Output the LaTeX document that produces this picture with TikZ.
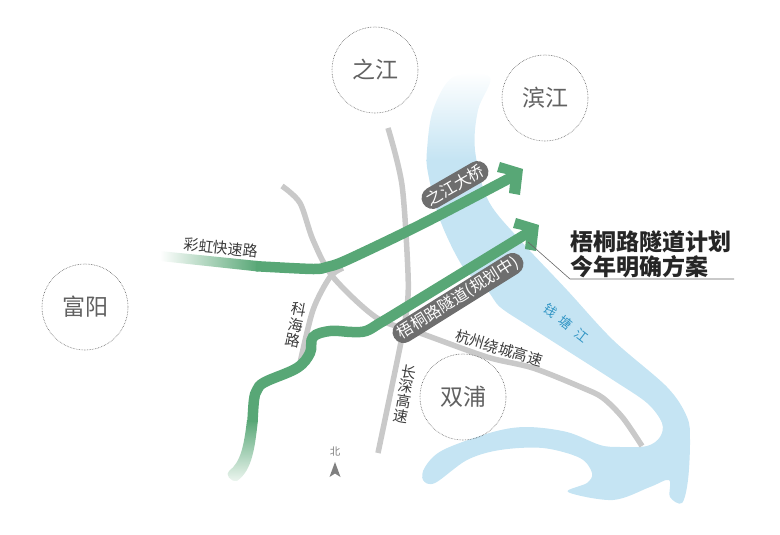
\documentclass[tikz,border=0pt]{standalone}
\usepackage{fontspec}
\setmainfont{Noto Sans CJK SC}
\usetikzlibrary{shapes.misc}
\definecolor{riverblue}{HTML}{C5E4F3}
\definecolor{roadgray}{HTML}{C9C9C9}
\definecolor{roadgreen}{HTML}{58A776}
\definecolor{pillgray}{HTML}{6E6E6E}
\definecolor{textgray}{HTML}{3C3C3C}
\definecolor{rivertext}{HTML}{2F94C4}
\tikzset{
  road/.style={draw=roadgray,line width=5.5pt},
  newroad/.style={draw=roadgreen,line width=10.5pt},
  district/.style={circle,draw=black!65,densely dotted,line width=0.6pt,minimum size=86pt,inner sep=0pt,text=black!62,font=\fontsize{23}{23}\selectfont},
  roadname/.style={text=textgray,font=\fontsize{15}{15}\selectfont,inner sep=0pt,align=center},
  pill/.style={rounded rectangle,fill=pillgray,text=white,inner ysep=1pt,inner xsep=2pt,minimum height=22pt,font=\fontsize{16}{16}\selectfont},
}
\def\riverpath{plot[smooth cycle,tension=0.55] coordinates {(453,77) (433,110) (427,150) (428,173) (440,220) (463,267) (487,290) (500,307) (527,325) (563,348) (613,380) (647,403) (662,423) (660,437) (647,446) (620,447) (600,445) (567,432) (527,427) (493,432) (443,450) (425,467) (423,480) (435,483) (467,460) (500,450) (543,448) (580,458) (592,473) (587,483) (568,492) (613,500) (650,487) (669,480) (670,497) (682,503) (688,480) (690,440) (687,417) (667,387) (613,340) (567,290) (520,240) (488,200) (475,150) (478,110) (490,77)}}
\begin{document}
\begin{tikzpicture}[x=1pt,y=-1pt]
  \useasboundingbox (0,0) rectangle (780,535);
  % river
  \begin{scope}
    \clip \riverpath;
    \shade[top color=white,bottom color=riverblue] (410,72) rectangle (510,160);
    \fill[riverblue] (410,160) rectangle (710,520);
  \end{scope}
  % roads
  \draw[road] plot[smooth] coordinates {(282,186) (300,203) (313,240) (333,277) (377,318) (420,333) (487,357) (533,368) (583,388) (603,398) (623,418) (642,446)};
  \draw[road] plot[smooth] coordinates {(343,268) (330,277) (313,310) (300,363)};
  \draw[road] plot[smooth] coordinates {(388,128) (402,185) (408,273) (407,307) (400,347) (378,453)};
  % planned roads
  \shade[left color=white,right color=roadgreen] (160,251) -- (258,261) -- (258,271.5) -- (160,261) -- cycle;
  \draw[newroad] plot[smooth] coordinates {(256,266.2) (313,269) (327,267) (347,260) (420,225) (510,178)};
  \shade[bottom color=roadgreen!10!white,top color=roadgreen] (247,420) -- (258,420) .. controls (255,445) and (253,470) .. (237,481) .. controls (230,482) and (225,474) .. (229,471) .. controls (241,462) and (244,445) .. cycle;
  \draw[newroad] plot[smooth,tension=0.6] coordinates {(252.5,422) (254,400) (257,390) (265,382) (297,368) (310,353) (313,337) (330,331) (352,332) (366,331) (380,323) (400,311) (526,234)};
  \foreach \hx/\hy in {0/0,16/56}
    \fill[roadgreen,shift={(\hx,\hy)}] (500,162) -- (523,169) -- (520,195) -- (509,193) -- (510,183) -- (506,174) -- (497,172) -- cycle;
  % districts
  \node[district] (zhijiang) at (375,70) {之江};
  \node[district] (binjiang) at (545,98) {滨江};
  \node[district] (fuyang) at (85,307) {富阳};
  \node[district] (shuangpu) at (463,397) {双浦};
  % labels on the planned roads
  \node[pill,rotate=30] (bridge) at (455,185) {之江大桥};
  \node[pill,rotate=32] (tunnel) at (458,298) {梧桐路隧道(规划中)};
  % road names
  \node[roadname,rotate=-6] (caihong) at (221,248) {彩虹快速路};
  \node[roadname,rotate=-11,font=\fontsize{15}{15.5}\selectfont] (kehai) at (296,325) {科\\海\\路};
  \node[roadname,rotate=-10,font=\fontsize{15}{15}\selectfont] (changshen) at (405,394) {长\\深\\高\\速};
  \node[roadname,rotate=-17] (raocheng) at (499,348) {杭州绕城高速};
  \node[text=rivertext,rotate=-38,inner sep=0pt,font=\fontsize{13}{13}\selectfont] (qiantang) at (566,323) {钱\hspace{7pt}塘\hspace{7pt}江};
  % north mark
  \node[text=black!50,inner sep=0pt,font=\fontsize{10.5}{10.5}\selectfont] (north) at (335,452) {北};
  \fill[black!50] (335,462) -- (340.5,477) -- (335,473.5) -- (329.5,477) -- cycle;
  % headline
  \node[anchor=west,inner sep=0pt,text=black!85,font=\bfseries\fontsize{23}{25}\selectfont,align=left] (headline) at (570,254.5) {梧桐路隧道计划\\今年明确方案};
  \coordinate (leadstart) at (528,242);
  \coordinate (leadknee) at (570,279);
  \coordinate (leadend) at (734,279);
  \draw[black!60,line width=0.6pt] (leadstart) -- (leadknee) -- (leadend);
\end{tikzpicture}
\end{document}
